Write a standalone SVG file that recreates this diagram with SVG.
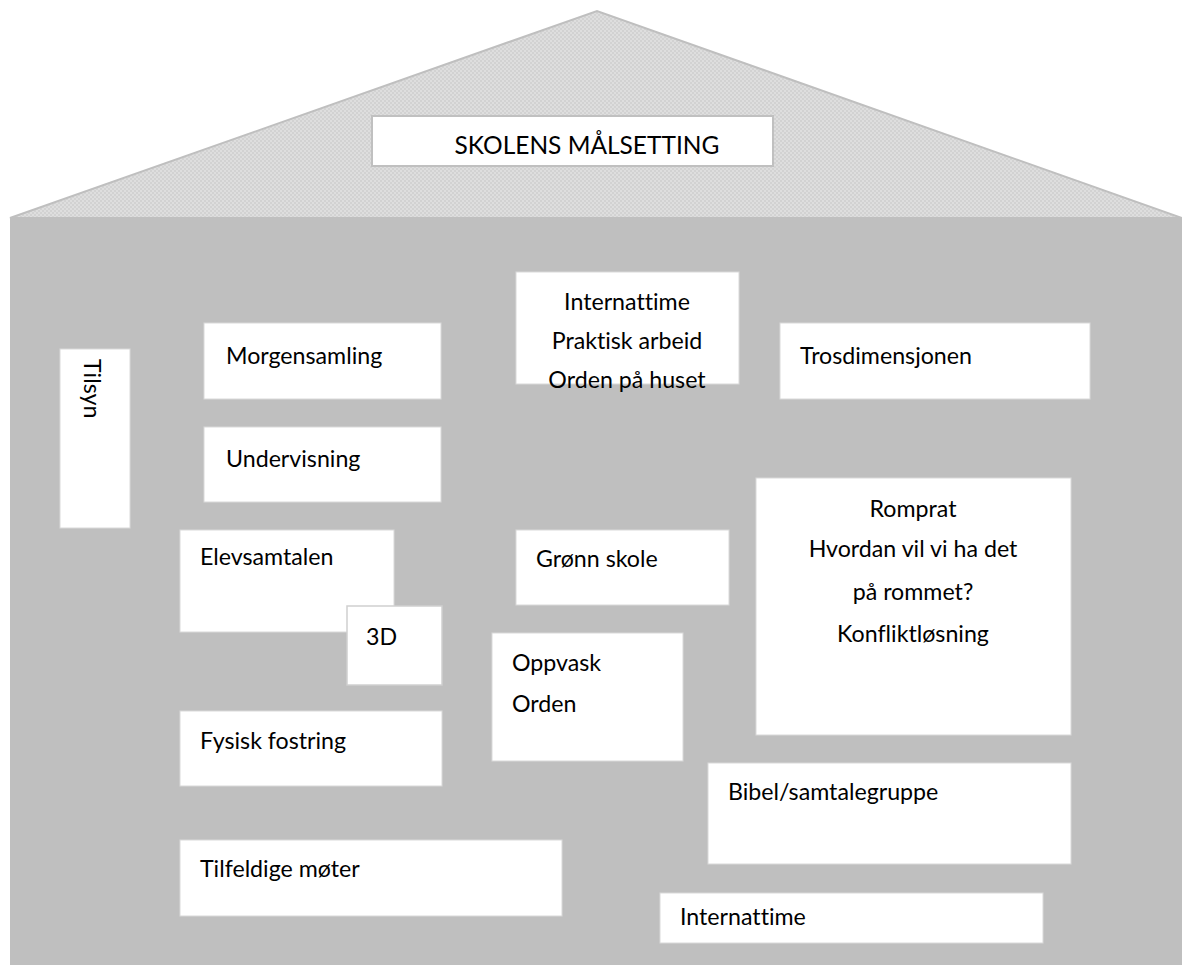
<svg xmlns="http://www.w3.org/2000/svg" width="1182" height="965" viewBox="0 0 1182 965">
<style>
.box{fill:#ffffff;stroke:#d9d9d9;stroke-width:1}
.t{font-family:Lato,"Liberation Sans",sans-serif;font-size:23.2px;fill:#000000;font-variant-ligatures:none}
.c{text-anchor:middle}
</style>
<defs>
<pattern id="dots" width="4" height="4" patternUnits="userSpaceOnUse">
<rect width="4" height="4" fill="#dedede"/>
<rect x="0" y="0" width="2" height="2" fill="#d2d2d2"/>
<rect x="2" y="2" width="2" height="2" fill="#d2d2d2"/>
</pattern>
</defs>
<rect width="1182" height="965" fill="#ffffff"/>
<g id="house">
<polygon points="10,218 597,11 1182,218" fill="url(#dots)" stroke="#bfbfbf" stroke-width="2"/>
<rect x="10" y="218" width="1172" height="747" fill="#bfbfbf"/>
</g>
<g id="connectors"></g>
<g id="title">
<rect x="372" y="116" width="401" height="50" fill="#ffffff" stroke="#c0c0c0" stroke-width="2"/>
<text class="t c" x="587" y="154" style="font-size:24.5px">SKOLENS MÅLSETTING</text>
</g>
<g id="tilsyn">
<rect class="box" x="60" y="349" width="70" height="179"/>
<text class="t" transform="translate(84,359) rotate(90)">Tilsyn</text>
</g>
<g id="morgensamling">
<rect class="box" x="204" y="323" width="237" height="76"/>
<text class="t" x="226" y="364">Morgensamling</text>
</g>
<g id="undervisning">
<rect class="box" x="204" y="427" width="237" height="75"/>
<text class="t" x="226" y="467">Undervisning</text>
</g>
<g id="internattime-top">
<rect class="box" x="516" y="272" width="223" height="112"/>
<text class="t c" x="627" y="310">Internattime</text>
<text class="t c" x="627" y="349">Praktisk arbeid</text>
<text class="t c" x="627" y="388">Orden på huset</text>
</g>
<g id="trosdimensjonen">
<rect class="box" x="780" y="323" width="310" height="76"/>
<text class="t" x="800" y="364">Trosdimensjonen</text>
</g>
<g id="elevsamtalen">
<rect class="box" x="180" y="530" width="214" height="102"/>
<text class="t" x="200" y="565">Elevsamtalen</text>
</g>
<g id="tredje-d">
<rect x="347" y="606" width="95" height="79" fill="#ffffff" stroke="#d0d0d0" stroke-width="1.5"/>
<text class="t" x="366" y="645">3D</text>
</g>
<g id="gronn-skole">
<rect class="box" x="516" y="530" width="213" height="75"/>
<text class="t" x="536" y="567">Grønn skole</text>
</g>
<g id="oppvask">
<rect class="box" x="492" y="633" width="191" height="128"/>
<text class="t" x="512" y="671">Oppvask</text>
<text class="t" x="512" y="712">Orden</text>
</g>
<g id="romprat">
<rect class="box" x="756" y="478" width="315" height="257"/>
<text class="t c" x="913" y="517">Romprat</text>
<text class="t c" x="913" y="557">Hvordan vil vi ha det</text>
<text class="t c" x="913" y="600">på rommet?</text>
<text class="t c" x="913" y="642">Konfliktløsning</text>
</g>
<g id="fysisk-fostring">
<rect class="box" x="180" y="711" width="262" height="75"/>
<text class="t" x="200" y="749">Fysisk fostring</text>
</g>
<g id="bibel">
<rect class="box" x="708" y="763" width="363" height="101"/>
<text class="t" x="728" y="800">Bibel/samtalegruppe</text>
</g>
<g id="tilfeldige">
<rect class="box" x="180" y="840" width="382" height="76"/>
<text class="t" x="200" y="877">Tilfeldige møter</text>
</g>
<g id="internattime-bottom">
<rect class="box" x="660" y="893" width="383" height="50"/>
<text class="t" x="680" y="925">Internattime</text>
</g>
</svg>
